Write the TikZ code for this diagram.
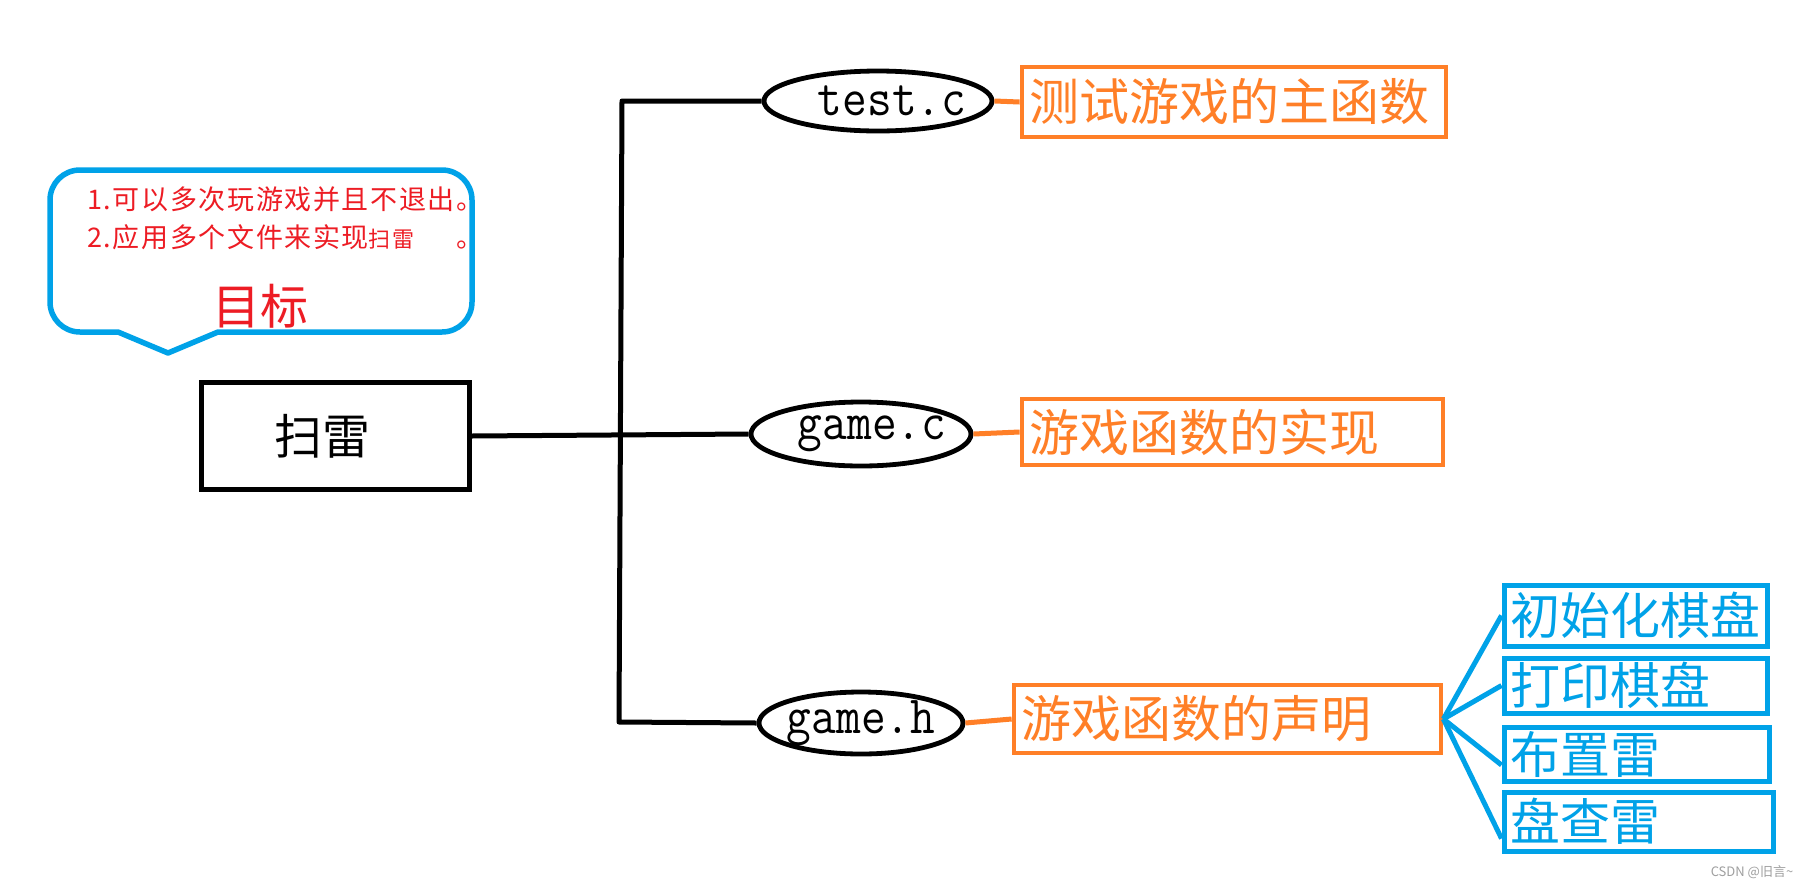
\documentclass[tikz,border=0pt]{standalone}
\usepackage{graphicx}
\usepackage{fontspec}
\usetikzlibrary{shapes.geometric}
\newfontfamily\cjk{Noto Sans CJK SC}
\newfontfamily\cjkls[LetterSpace=6]{Noto Sans CJK SC}
\definecolor{pblue}{HTML}{00A2E8}
\definecolor{porange}{HTML}{FF7F27}
\definecolor{pred}{HTML}{ED1C24}
\newcommand\elltxt[1]{\scalebox{1}[1.12]{#1}}
\begin{document}
\begin{tikzpicture}[x=1pt,y=-1pt,
  blk/.style={line width=5pt, draw=black},
  oline/.style={line width=5pt, draw=porange},
  bline/.style={line width=5pt, draw=pblue},
  ell/.style={ellipse, draw=black, line width=4.8pt, inner sep=-10pt, font=\ttfamily\fontsize{48}{48}\selectfont},
  obox/.style={draw=porange, line width=4.8pt, text=porange, font=\cjk\fontsize{50}{50}\selectfont, inner xsep=7pt, inner ysep=0pt, align=left},
  bbox/.style={draw=pblue, line width=5pt, text=pblue, font=\cjk\fontsize{50}{50}\selectfont, inner xsep=6pt, inner ysep=0pt, align=left},
  redtxt/.style={text=pred, inner sep=0pt}
]
\fill[white] (0,0) rectangle (1813,887);
\useasboundingbox (0,0) rectangle (1813,887);

% callout
\draw[pblue, line width=5.5pt, line join=round]
  (218,332) -- (442,332) .. controls (458.6,332) and (472,318.6) .. (472,302)
  -- (472,200) .. controls (472,183.4) and (458.6,170) .. (442,170)
  -- (80,170) .. controls (63.4,170) and (50,183.4) .. (50,200)
  -- (50,302) .. controls (50,318.6) and (63.4,332) .. (80,332)
  -- (118,332) -- (168,353) -- cycle;
\node[redtxt, anchor=west, font=\cjkls\fontsize{27}{38}\selectfont] (goals) at (87,221)
  {\begin{tabular}{@{}l@{}}1.可以多次玩游戏并且不退出。\\2.应用多个文件来实现{\fontsize{22}{22}\selectfont 扫雷}\hfill 。\end{tabular}};
\node[redtxt, font=\cjk\fontsize{48}{48}\selectfont] (mb) at (260,306) {目标};

% main box
\node[draw=black, line width=5pt, font=\cjk\fontsize{48}{48}\selectfont, inner xsep=73pt, inner ysep=0pt,
  text width=122pt, align=left, minimum height=107pt] (sl) at (335,436) {扫雷};

% ellipses
\node[ell, minimum width=228pt, minimum height=60pt] (tc) at (878,101) {\hspace*{28pt}\elltxt{test.c}};
\node[ell, minimum width=220pt, minimum height=64pt] (gc) at (861,434) {\hspace*{22pt}\elltxt{game.c}};
\node[ell, minimum width=204pt, minimum height=62pt] (gh) at (861,723) {\elltxt{game.h}};

\coordinate (vt) at (622,101);
\coordinate (vb) at (619,722);
\draw[blk] (sl.east) -- (gc.west);
\draw[blk, line join=round] (tc.west) -- (vt) -- (vb) -- (gh.west);

% orange boxes
\node[obox, text width=410pt, minimum height=70pt] (ob1) at (1234,102) {测试游戏的主函数};
\node[obox, text width=407pt, minimum height=66pt] (ob2) at (1232.5,432) {游戏函数的实现};
\node[obox, text width=413pt, minimum height=68pt] (ob3) at (1227.5,719) {游戏函数的声明};
\draw[oline] (tc.east) -- (ob1.west);
\draw[oline] (gc.east) -- (ob2.west);
\draw[oline] (gh.east) -- (ob3.west);

% blue boxes
\node[bbox, text width=251pt, minimum height=61pt] (bb1) at (1635.5,615.5) {初始化棋盘};
\node[bbox, text width=251pt, minimum height=55pt] (bb2) at (1635.5,685.5) {打印棋盘};
\node[bbox, text width=253pt, minimum height=54pt] (bb3) at (1636.5,754) {布置雷};
\node[bbox, text width=257pt, minimum height=59pt] (bb4) at (1638.5,821.5) {盘查雷};
\draw[bline] (ob3.east) -- (bb1.west);
\draw[bline] (ob3.east) -- (bb2.west);
\draw[bline] (ob3.east) -- ([yshift=-11pt]bb3.west);
\draw[bline] (ob3.east) -- ([yshift=-17pt]bb4.west);

% watermark
\node[text=gray!75, font=\cjk\fontsize{13}{13}\selectfont, inner sep=0pt] (wm) at (1752,872) {CSDN @旧言\textasciitilde};
\end{tikzpicture}
\end{document}
